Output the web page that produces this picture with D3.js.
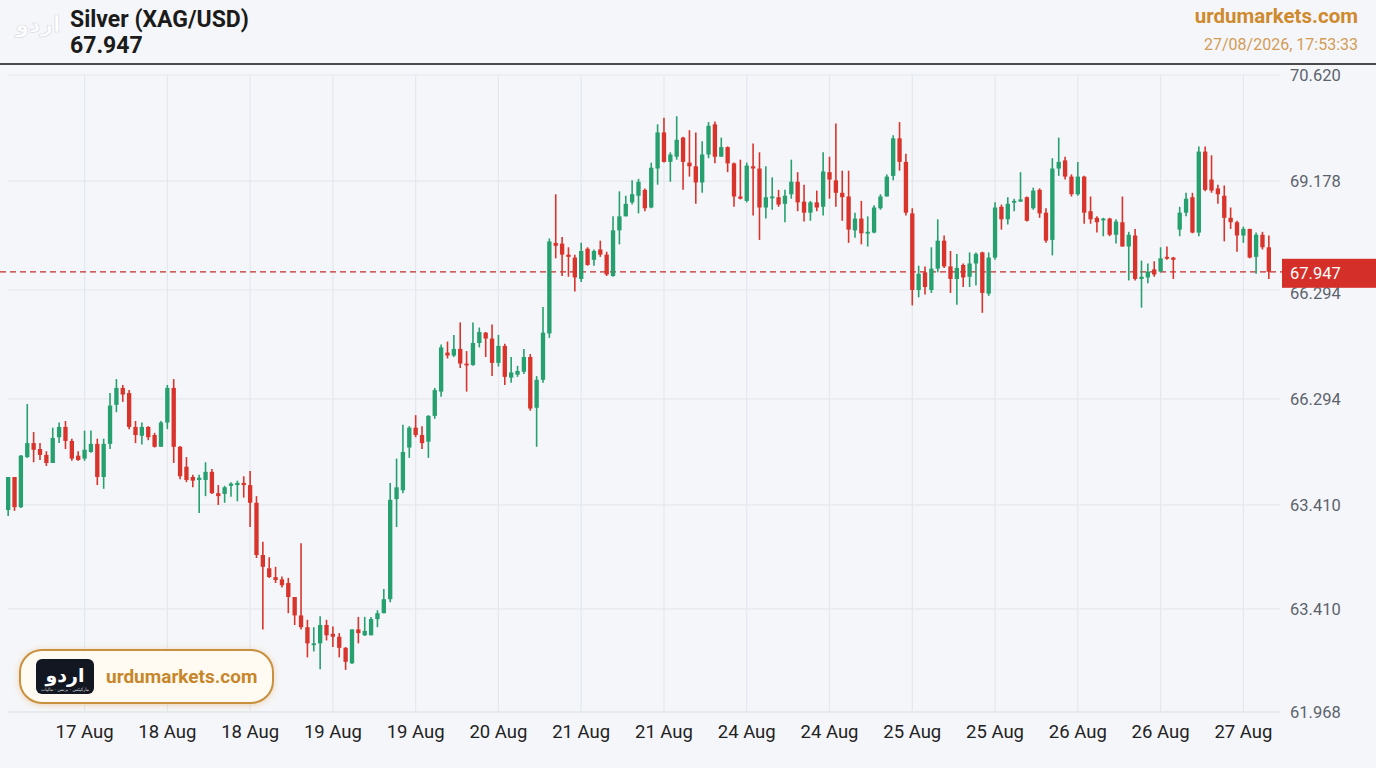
<!DOCTYPE html>
<html>
<head>
<meta charset="utf-8">
<script src="https://cdn.jsdelivr.net/npm/d3@7"></script>
<style>
  html, body { margin: 0; padding: 0; background: #f5f6fa; }
  svg { display: block; }
</style>
</head>
<body>
<div id="chart"></div>
<script>
// candle values, oldest first
var open = [
  64.71,65.16,64.75,65.43,65.62,65.54,65.46,65.35,65.70,65.84,
  65.65,65.45,65.41,65.50,65.61,65.16,65.61,66.14,66.37,66.30,
  65.84,65.72,65.84,65.73,65.57,65.90,66.37,65.57,65.30,65.16,
  65.12,65.12,65.23,64.94,64.93,65.04,65.05,65.08,65.05,64.81,
  64.10,63.92,63.80,63.77,63.72,63.53,63.28,63.12,62.89,62.90,
  63.15,63.03,62.99,62.84,62.63,63.09,63.01,63.01,63.23,63.31,
  63.50,64.86,64.98,65.56,65.83,65.73,65.64,65.99,66.32,66.85,
  66.81,66.90,66.70,66.68,66.98,67.12,67.04,66.71,66.94,66.51,
  66.55,66.59,66.79,66.10,66.48,67.11,68.34,68.33,68.18,68.14,
  67.85,68.26,68.11,68.25,68.18,67.89,68.51,68.70,68.89,68.98,
  69.06,68.82,69.35,69.84,69.44,69.51,69.77,69.43,69.38,69.16,
  69.54,69.95,69.51,69.64,69.42,68.97,68.91,69.38,69.35,68.82,
  68.96,68.96,68.87,69.00,69.17,68.90,68.75,68.89,68.83,69.30,
  69.19,69.02,68.97,68.51,68.67,68.48,68.48,68.81,68.97,69.25,
  69.76,69.44,68.74,67.70,67.94,67.70,67.99,68.37,68.02,67.85,
  68.04,67.88,68.06,68.21,67.65,68.14,68.83,68.66,68.89,68.90,
  68.96,68.81,69.06,68.75,68.38,69.35,69.46,69.24,69.00,69.24,
  68.77,68.68,68.66,68.67,68.45,68.62,68.29,68.44,67.85,67.87,
  67.98,67.95,68.15,68.14,68.52,68.75,68.96,68.48,69.58,69.20,
  69.08,68.98,68.68,68.62,68.44,68.53,68.15,68.45,68.28
];
var high = [
  65.16,65.16,65.46,66.15,65.77,65.62,65.51,65.83,65.90,65.92,
  65.68,65.51,65.79,65.79,65.68,65.68,66.30,66.49,66.41,66.34,
  65.92,65.90,65.85,65.76,65.92,66.41,66.49,65.58,65.43,65.19,
  65.19,65.36,65.27,65.05,65.04,65.09,65.11,65.17,65.24,64.90,
  64.28,64.07,63.94,63.81,63.79,63.53,64.26,63.22,63.12,63.27,
  63.22,63.13,63.04,62.85,63.09,63.26,63.26,63.26,63.35,63.64,
  65.08,65.41,65.87,65.85,66.00,65.85,66.00,66.37,66.96,67.00,
  67.09,67.26,66.87,67.26,67.19,67.13,67.23,67.09,66.97,66.79,
  66.67,66.90,66.83,66.53,67.47,68.40,69.00,68.42,68.28,68.18,
  68.34,68.28,68.25,68.37,68.22,68.70,69.04,68.98,69.19,69.21,
  69.08,69.43,69.95,70.04,69.57,70.06,69.78,69.87,69.84,69.72,
  69.98,69.99,69.77,69.65,69.43,69.47,69.43,69.69,69.57,69.38,
  69.23,69.06,69.06,69.47,69.30,69.13,68.91,69.05,69.57,69.51,
  69.96,69.32,69.32,68.75,68.91,68.70,68.85,69.00,69.27,69.80,
  69.98,69.55,68.81,68.03,68.02,68.28,68.66,68.44,68.23,68.19,
  68.06,68.21,68.21,68.22,68.21,68.89,68.86,68.96,68.94,69.30,
  68.97,69.09,69.08,68.81,69.49,69.77,69.51,69.27,69.44,69.25,
  68.97,68.70,68.68,68.68,68.66,68.97,68.49,68.53,68.10,68.06,
  68.09,68.28,68.29,68.15,68.83,69.02,69.02,69.65,69.65,69.53,
  69.13,69.12,68.82,68.64,68.56,68.53,68.48,68.49,68.44
];
var low = [
  64.63,64.70,64.74,65.42,65.36,65.39,65.31,65.35,65.62,65.54,
  65.38,65.38,65.38,65.49,65.05,65.00,65.54,66.04,66.18,65.81,
  65.62,65.60,65.66,65.56,65.57,65.81,65.35,65.13,65.09,65.02,
  64.67,64.90,64.93,64.78,64.81,64.89,64.83,64.88,64.48,64.06,
  63.09,63.79,63.72,63.66,63.31,63.15,63.09,62.71,62.79,62.55,
  62.94,62.85,62.71,62.54,62.62,62.90,63.00,63.01,63.12,63.31,
  63.46,64.48,64.94,65.42,65.70,65.54,65.42,65.95,66.25,66.77,
  66.79,66.64,66.32,66.67,66.92,66.79,66.53,66.66,66.41,66.44,
  66.52,66.56,66.06,65.57,66.44,67.05,68.13,67.89,67.88,67.68,
  67.81,68.03,68.03,68.15,67.89,67.88,68.32,68.70,68.86,68.74,
  68.77,68.81,69.13,69.43,69.17,69.47,69.06,69.24,68.87,69.02,
  69.49,69.42,69.51,69.30,68.83,68.93,68.89,68.71,68.38,68.67,
  68.79,68.83,68.62,68.94,68.77,68.63,68.64,68.77,68.71,68.94,
  68.83,68.64,68.34,68.41,68.32,68.29,68.47,68.79,68.97,69.19,
  69.32,68.71,67.49,67.60,67.64,67.66,67.94,68.00,67.66,67.50,
  67.74,67.74,67.76,67.39,67.62,68.11,68.52,68.59,68.77,68.90,
  68.63,68.79,68.68,68.34,68.17,69.25,69.20,68.97,68.98,68.60,
  68.60,68.48,68.43,68.43,68.33,68.29,67.83,67.83,67.46,67.79,
  67.88,67.94,68.11,67.85,68.43,68.70,68.47,68.43,69.04,69.02,
  68.87,68.36,68.53,68.22,68.34,68.13,67.92,68.25,67.85
];
var close = [
  65.16,64.75,65.45,65.62,65.53,65.46,65.35,65.69,65.84,65.65,
  65.41,65.39,65.53,65.61,65.16,65.61,66.13,66.37,66.28,65.84,
  65.73,65.84,65.70,65.57,65.90,66.37,65.57,65.17,65.12,65.11,
  65.15,65.23,64.94,64.90,65.02,65.07,65.08,65.05,64.81,64.10,
  63.94,63.80,63.76,63.69,63.53,63.28,63.12,62.90,62.90,63.15,
  63.01,62.99,62.84,62.65,63.09,63.04,63.07,63.23,63.31,63.50,
  64.85,65.02,65.50,65.83,65.73,65.62,65.99,66.34,66.92,66.81,
  66.90,66.70,66.68,66.98,67.13,67.04,66.71,66.94,66.52,66.58,
  66.60,66.79,66.09,66.48,67.12,68.36,68.30,68.18,68.15,67.87,
  68.23,68.04,68.23,68.18,67.91,68.51,68.70,68.87,69.00,69.17,
  68.81,69.36,69.84,69.44,69.54,69.74,69.44,69.38,69.16,69.54,
  69.93,69.51,69.64,69.42,68.97,68.94,69.39,69.35,68.82,68.96,
  68.97,68.86,68.98,69.17,68.89,68.75,68.89,68.82,69.31,69.20,
  69.02,68.96,68.52,68.67,68.47,68.49,68.82,68.97,69.24,69.76,
  69.44,68.75,67.70,67.92,67.74,67.99,68.37,68.02,67.85,68.00,
  67.87,68.06,68.19,67.66,68.14,68.82,68.66,68.87,68.91,68.93,
  68.64,69.05,68.74,68.37,69.35,69.44,69.24,69.00,69.24,68.75,
  68.66,68.62,68.67,68.45,68.63,68.29,68.45,67.85,67.88,67.95,
  67.91,68.13,68.13,68.11,68.75,68.94,68.48,69.58,69.06,69.05,
  69.00,68.68,68.62,68.44,68.53,68.14,68.45,68.28,67.947
];

// x axis: candle index of each date tick and its label
var xTickIndex = [12, 25, 38, 51, 64, 77, 90, 103, 116, 129, 142, 155, 168, 181, 194];
var xTickLabels = ["17 Aug","18 Aug","18 Aug","19 Aug","19 Aug","20 Aug","21 Aug","21 Aug",
                   "24 Aug","24 Aug","25 Aug","25 Aug","26 Aug","26 Aug","27 Aug"];

// y axis: grid levels (where the lines sit) and the labels as printed
var yTickValues = [70.620, 69.178, 67.70, 66.22, 64.78, 63.37, 61.968];
var yTickLabels = ["70.620","69.178","66.294","66.294","63.410","63.410","61.968"];

var lastPrice = 67.947;

var W = 1376, H = 768;
var plotLeft = 8, plotRight = 1280, plotTop = 75, plotBottom = 712;
var upColor = "#25a06e", downColor = "#d8342c";

var svg = d3.select("#chart").append("svg")
    .attr("width", W)
    .attr("height", H)
    .style("font-family", "Roboto, 'Noto Sans', sans-serif");

svg.append("rect")
    .attr("width", W).attr("height", H)
    .attr("fill", "#f5f6fa");

var candles = d3.range(open.length).map(function(i) {
    return { i: i, o: open[i], h: high[i], l: low[i], c: close[i] };
});

var x = d3.scaleBand()
    .domain(d3.range(open.length))
    .range([6, 1271])
    .paddingInner(0.32);

var y = d3.scaleLinear()
    .domain([61.968, 70.620])
    .range([plotBottom, plotTop]);

function cx(i) { return x(i) + x.bandwidth() / 2; }

// grid
var grid = svg.append("g");
grid.selectAll("line.h")
    .data(yTickValues)
    .enter()
    .append("line")
    .attr("class", "h")
    .attr("x1", plotLeft).attr("x2", plotRight)
    .attr("y1", function(d) { return y(d); })
    .attr("y2", function(d) { return y(d); })
    .attr("stroke", function(d, i) { return i === yTickValues.length - 1 ? "#d9dce3" : "#e4e7ed"; })
    .attr("stroke-width", 1.2);

grid.selectAll("line.v")
    .data(xTickIndex)
    .enter()
    .append("line")
    .attr("class", "v")
    .attr("x1", function(d) { return cx(d); })
    .attr("x2", function(d) { return cx(d); })
    .attr("y1", plotTop).attr("y2", plotBottom)
    .attr("stroke", "#e4e7ed")
    .attr("stroke-width", 1.2);

// y labels
svg.append("g").selectAll("text")
    .data(yTickValues)
    .enter()
    .append("text")
    .attr("x", 1290)
    .attr("y", function(d) { return y(d); })
    .attr("dy", function(d, i) { return i === 2 ? "0.55em" : "0.36em"; })
    .attr("font-size", "16.5px")
    .attr("fill", "#5c636d")
    .text(function(d, i) { return yTickLabels[i]; });

// x labels
svg.append("g").selectAll("text")
    .data(xTickIndex)
    .enter()
    .append("text")
    .attr("x", function(d) { return cx(d); })
    .attr("y", 738)
    .attr("text-anchor", "middle")
    .attr("font-size", "18.5px")
    .attr("fill", "#222")
    .text(function(d, i) { return xTickLabels[i]; });

// last price dashed line
svg.append("line")
    .attr("x1", 0).attr("x2", 1282)
    .attr("y1", y(lastPrice)).attr("y2", y(lastPrice))
    .attr("stroke", "#c62d2a")
    .attr("stroke-width", 1.3)
    .attr("stroke-dasharray", "6,4");

// candles
var cg = svg.append("g");
cg.selectAll("line")
    .data(candles)
    .enter()
    .append("line")
    .attr("x1", function(d) { return cx(d.i); })
    .attr("x2", function(d) { return cx(d.i); })
    .attr("y1", function(d) { return y(d.h); })
    .attr("y2", function(d) { return y(d.l); })
    .attr("stroke", function(d) { return d.c >= d.o ? upColor : downColor; })
    .attr("stroke-width", 1.6);

cg.selectAll("rect")
    .data(candles)
    .enter()
    .append("rect")
    .attr("x", function(d) { return x(d.i); })
    .attr("width", x.bandwidth())
    .attr("y", function(d) { return y(Math.max(d.o, d.c)); })
    .attr("height", function(d) { return Math.max(1.8, Math.abs(y(d.o) - y(d.c))); })
    .attr("fill", function(d) { return d.c >= d.o ? upColor : downColor; });

// price badge
svg.append("rect")
    .attr("x", 1282).attr("y", y(lastPrice) - 13)
    .attr("width", 94).attr("height", 29)
    .attr("fill", "#d52f29");
svg.append("text")
    .attr("x", 1290).attr("y", y(lastPrice) + 1.5)
    .attr("dy", "0.36em")
    .attr("font-size", "16.5px")
    .attr("fill", "#fff")
    .text(d3.format(".3f")(lastPrice));

// header
svg.append("line")
    .attr("x1", 0).attr("x2", W)
    .attr("y1", 64).attr("y2", 64)
    .attr("stroke", "#111")
    .attr("stroke-width", 1.5);

svg.append("text")
    .attr("x", 38).attr("y", 32)
    .attr("text-anchor", "middle")
    .attr("font-size", "22px")
    .attr("font-weight", "bold")
    .attr("fill", "#ffffff")
    .attr("stroke", "#dadce2")
    .attr("stroke-width", 0.7)
    .style("font-family", "'Noto Sans', 'DejaVu Sans', sans-serif")
    .text("اردو");

svg.append("text")
    .attr("x", 70).attr("y", 27)
    .attr("font-size", "23px")
    .attr("font-weight", "bold")
    .attr("fill", "#1b1b1b")
    .text("Silver (XAG/USD)");
svg.append("text")
    .attr("x", 70).attr("y", 53)
    .attr("font-size", "23px")
    .attr("font-weight", "bold")
    .attr("fill", "#1b1b1b")
    .text(d3.format(".3f")(lastPrice));

svg.append("text")
    .attr("x", 1358).attr("y", 23)
    .attr("text-anchor", "end")
    .attr("font-size", "20.5px")
    .attr("font-weight", "bold")
    .attr("fill", "#cf8a2e")
    .text("urdumarkets.com");
svg.append("text")
    .attr("x", 1358).attr("y", 50)
    .attr("text-anchor", "end")
    .attr("font-size", "16px")
    .attr("fill", "#d29c55")
    .text("27/08/2026, 17:53:33");

// watermark badge bottom left
var defs = svg.append("defs");
var f = defs.append("filter").attr("id", "glow")
    .attr("x", "-10%").attr("y", "-30%").attr("width", "120%").attr("height", "160%");
f.append("feDropShadow")
    .attr("dx", 0).attr("dy", 1)
    .attr("stdDeviation", 3)
    .attr("flood-color", "#e0a85a")
    .attr("flood-opacity", 0.45);

var badge = svg.append("g");
badge.append("rect")
    .attr("x", 20).attr("y", 650)
    .attr("width", 253).attr("height", 53)
    .attr("rx", 22)
    .attr("fill", "#fffbf2")
    .attr("stroke", "#c99040")
    .attr("stroke-width", 2)
    .attr("filter", "url(#glow)");
badge.append("rect")
    .attr("x", 36).attr("y", 659)
    .attr("width", 58).attr("height", 35)
    .attr("rx", 6)
    .attr("fill", "#131722");
badge.append("text")
    .attr("x", 65).attr("y", 682)
    .attr("text-anchor", "middle")
    .attr("font-size", "19px")
    .attr("font-weight", "bold")
    .attr("fill", "#fff")
    .style("font-family", "'Noto Sans', 'DejaVu Sans', sans-serif")
    .text("اردو");
badge.append("text")
    .attr("x", 65).attr("y", 691)
    .attr("text-anchor", "middle")
    .attr("font-size", "4.5px")
    .attr("fill", "#ddd")
    .style("font-family", "'DejaVu Sans', sans-serif")
    .text("مارکیٹس · بزنس · مالیات");
badge.append("text")
    .attr("x", 106).attr("y", 683)
    .attr("font-size", "19px")
    .attr("font-weight", "bold")
    .attr("fill", "#c8862a")
    .text("urdumarkets.com");
</script>
</body>
</html>
